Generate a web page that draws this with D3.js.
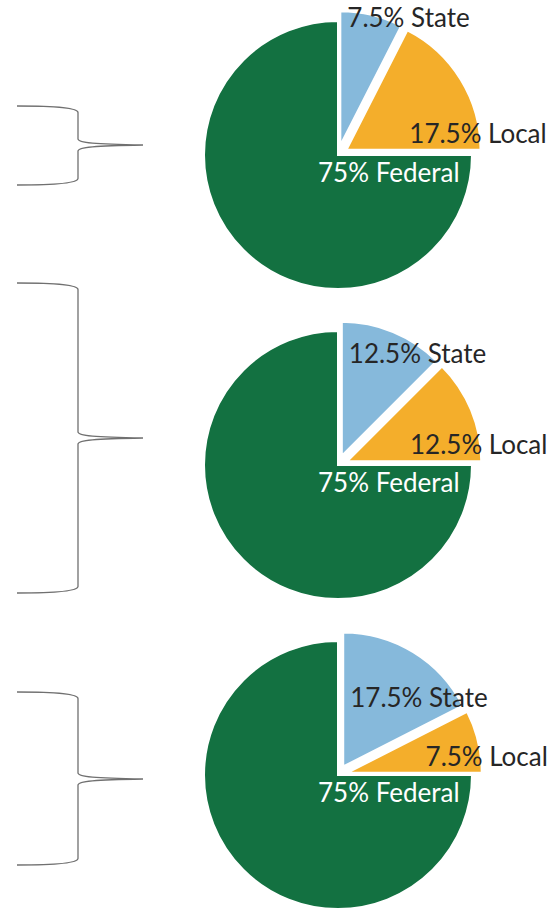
<!DOCTYPE html>
<html>
<head>
<meta charset="utf-8">
<script src="https://cdn.jsdelivr.net/npm/d3@7"></script>
<style>
  html, body { margin: 0; padding: 0; background: #ffffff; }
  svg { display: block; }
  text { font-family: Lato, "Noto Sans", sans-serif; }
</style>
</head>
<body>
<svg id="chart" width="554" height="908"></svg>
<script>
// ---- data ----
const categories = ["State", "Local", "Federal"];
const stateShare = [7.5, 12.5, 17.5];
const localShare = [17.5, 12.5, 7.5];
const federalShare = [75, 75, 75];
const sliceColors = ["#86b9db", "#f4ae2b", "#137141"];

// ---- layout ----
const W = 554, H = 908;
const radius = 134;
const explode = 10;
const cx = 338;
const svg = d3.select("#chart");

const yCenter = d3.scaleLinear().domain([0, 2]).range([155, 775]);
const color = d3.scaleOrdinal().domain(categories).range(sliceColors);

const pie = d3.pie().sort(null).value(d => d.value).startAngle(0).endAngle(2 * Math.PI);
const arc = d3.arc().innerRadius(0).outerRadius(radius);

// braces (annotation layout)
const braces = [
  { top: 106, tip: 145, bottom: 185 },
  { top: 283, tip: 438, bottom: 593 },
  { top: 692, tip: 779, bottom: 865 }
];
const bx0 = 17, bx1 = 78, bx2 = 143;
function bracePath(b) {
  const p = d3.path();
  p.moveTo(bx0, b.top);
  p.bezierCurveTo(55, b.top, bx1, b.top + 2, bx1, b.top + 6.5);
  p.lineTo(bx1, b.tip - 6);
  p.bezierCurveTo(bx1, b.tip - 2, 95, b.tip - 0.8, bx2, b.tip);
  p.moveTo(bx2, b.tip);
  p.bezierCurveTo(95, b.tip + 0.8, bx1, b.tip + 2, bx1, b.tip + 6);
  p.lineTo(bx1, b.bottom - 6.5);
  p.bezierCurveTo(bx1, b.bottom - 2, 55, b.bottom, bx0, b.bottom);
  return p.toString();
}
svg.append("g").selectAll("path").data(braces).join("path")
  .attr("d", bracePath)
  .attr("fill", "none")
  .attr("stroke", "#707070")
  .attr("stroke-width", 1.3);

const fmt = v => d3.format("~g")(v) + "%";

stateShare.forEach((s, i) => {
  const rows = [
    { name: categories[0], value: s },
    { name: categories[1], value: localShare[i] },
    { name: categories[2], value: federalShare[i] }
  ];
  const arcs = pie(rows);
  const cy = yCenter(i);
  const g = svg.append("g").attr("transform", `translate(${cx},${cy})`);

  const off = d => {
    if (d.data.name === "Federal") return [0, 0];
    const m = (d.startAngle + d.endAngle) / 2;
    return [explode * Math.sin(m), -explode * Math.cos(m)];
  };

  g.selectAll("path").data(arcs).join("path")
    .attr("d", arc)
    .attr("transform", d => `translate(${off(d)})`)
    .attr("fill", d => color(d.data.name))
    .attr("stroke", "#ffffff")
    .attr("stroke-width", 2);

  const fs = 26;
  // State label: starts at slice's left edge, baseline at the rim point where it meets Local
  const st = arcs[0], so = off(st);
  g.append("text")
    .attr("x", so[0] + 7)
    .attr("y", so[1] - radius * Math.cos(st.endAngle) + 1.5)
    .attr("font-size", fs).attr("fill", "#262626")
    .text(fmt(st.data.value) + " " + st.data.name);

  // Local label: percentage ends at the slice's right edge
  const lo = arcs[1], lof = off(lo);
  const lx = lof[0] + radius * Math.sin(lo.endAngle) + 1;
  g.append("text")
    .attr("x", lx)
    .attr("y", lof[1] - 7)
    .attr("text-anchor", "end")
    .attr("font-size", fs).attr("fill", "#262626")
    .text(fmt(lo.data.value));
  g.append("text")
    .attr("x", lx + fs * 0.25)
    .attr("y", lof[1] - 7)
    .attr("font-size", fs).attr("fill", "#262626")
    .text(lo.data.name);

  // Federal label
  const fe = arcs[2];
  g.append("text")
    .attr("x", -20)
    .attr("y", 27)
    .attr("font-size", fs).attr("fill", "#ffffff")
    .text(fmt(fe.data.value) + " " + fe.data.name);
});
</script>
</body>
</html>
